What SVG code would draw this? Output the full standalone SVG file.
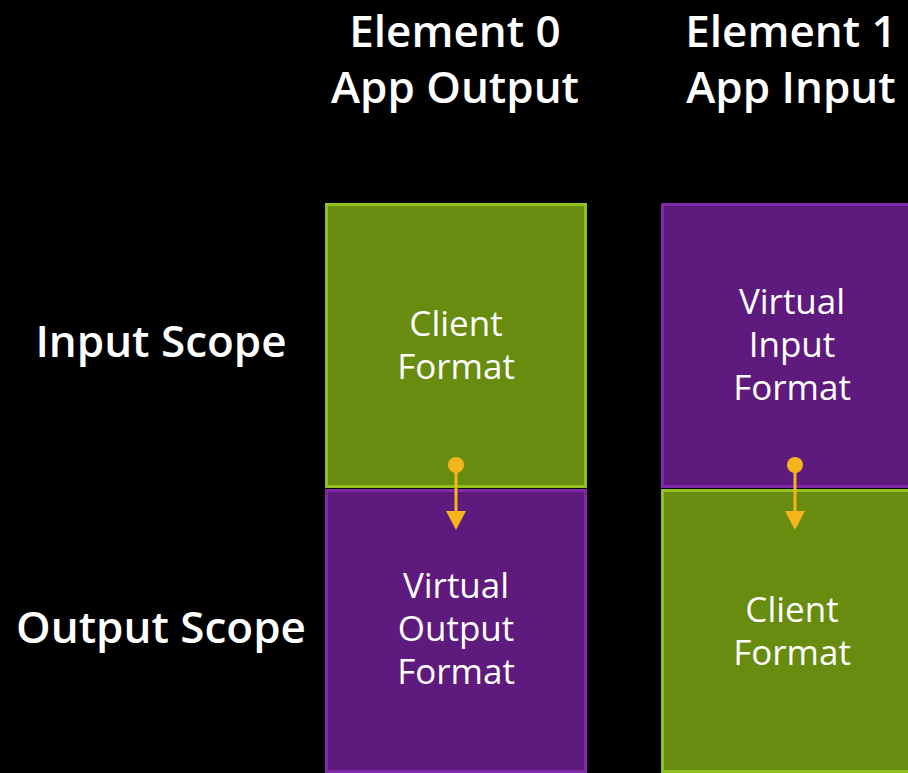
<svg xmlns="http://www.w3.org/2000/svg" width="908" height="773" viewBox="0 0 908 773">
  <defs>
    <style>
      .heading { font-family: "Open Sans", "Liberation Sans", sans-serif; font-weight: 600; font-size: 44px; fill: #ffffff; text-anchor: middle; }
      .scope { font-family: "Open Sans", "Liberation Sans", sans-serif; font-weight: 600; font-size: 44px; fill: #ffffff; text-anchor: middle; }
      .label { font-family: "Open Sans", "Liberation Sans", sans-serif; font-weight: 400; font-size: 35px; fill: #ffffff; text-anchor: middle; }
      .client { fill: #688c0f; stroke: #93c11f; stroke-width: 3; }
      .virtual { fill: #5f1a7e; stroke: #8029a9; stroke-width: 3; }
      .flow { stroke: #f4b41a; stroke-width: 3; fill: none; }
      .flow-dot { fill: #f4b41a; }
    </style>
  </defs>

  <!-- background -->
  <rect x="0" y="0" width="908" height="773" fill="#000000"/>

  <!-- column headings -->
  <g id="heading-element0">
    <text class="heading" x="455" y="47">Element 0</text>
    <text class="heading" x="455" y="103">App Output</text>
  </g>
  <g id="heading-element1">
    <text class="heading" x="791" y="47">Element 1</text>
    <text class="heading" x="791" y="103">App Input</text>
  </g>

  <!-- row labels -->
  <g id="label-input-scope">
    <text class="scope" x="161" y="357">Input Scope</text>
  </g>
  <g id="label-output-scope">
    <text class="scope" x="161" y="643">Output Scope</text>
  </g>

  <!-- element 0, input scope -->
  <g id="e0-input">
    <rect class="client" x="326.5" y="204.5" width="259" height="282"/>
    <text class="label" x="456" y="336">Client</text>
    <text class="label" x="456" y="379">Format</text>
  </g>

  <!-- element 0, output scope -->
  <g id="e0-output">
    <rect class="virtual" x="326.5" y="490.5" width="259" height="281"/>
    <text class="label" x="456" y="598">Virtual</text>
    <text class="label" x="456" y="641">Output</text>
    <text class="label" x="456" y="684">Format</text>
  </g>

  <!-- element 1, input scope -->
  <g id="e1-input">
    <rect class="virtual" x="662.5" y="204.5" width="259" height="282"/>
    <text class="label" x="792" y="314">Virtual</text>
    <text class="label" x="792" y="357">Input</text>
    <text class="label" x="792" y="400">Format</text>
  </g>

  <!-- element 1, output scope -->
  <g id="e1-output">
    <rect class="client" x="662.5" y="490.5" width="259" height="281"/>
    <text class="label" x="792" y="622">Client</text>
    <text class="label" x="792" y="665">Format</text>
  </g>

  <!-- format conversions -->
  <g id="connectors">
    <g id="e0-conversion">
      <circle class="flow-dot" cx="456" cy="465" r="8"/>
      <line class="flow" x1="456" y1="465" x2="456" y2="512"/>
      <polygon class="flow-dot" points="446,511 466,511 456,530"/>
    </g>
    <g id="e1-conversion">
      <circle class="flow-dot" cx="795" cy="465" r="8"/>
      <line class="flow" x1="795" y1="465" x2="795" y2="512"/>
      <polygon class="flow-dot" points="785,511 805,511 795,530"/>
    </g>
  </g>
</svg>
